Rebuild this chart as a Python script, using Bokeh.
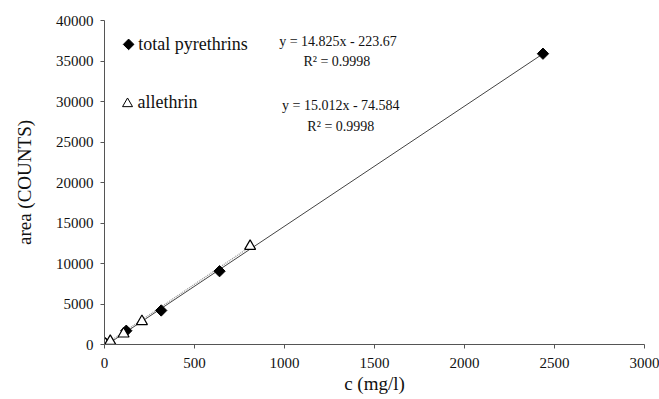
import math
from bokeh.plotting import figure
from bokeh.models import Range1d, Label, FixedTicker
from bokeh.embed import file_html
from bokeh.resources import INLINE

# data
pyr_x = [10, 121, 315, 639, 2436]
pyr_y = [50, 1700, 4200, 9050, 35900]
all_x = [4, 32, 106, 208, 809]
all_y = [80, 410, 1320, 2850, 12130]
pyr_slope, pyr_icpt = 14.825, -223.67
all_slope, all_icpt = 15.012, -74.584
x_ticks = [0, 500, 1000, 1500, 2000, 2500, 3000]
y_ticks = [0, 5000, 10000, 15000, 20000, 25000, 30000, 35000, 40000]

FONT = "Liberation Serif"
INK = "#111111"

p = figure(width=659, height=399, output_backend="svg", toolbar_location=None,
           x_range=Range1d(0, 3000), y_range=Range1d(0, 40000),
           min_border_left=104, min_border_right=15, min_border_top=20, min_border_bottom=55)
p.outline_line_color = None
p.grid.visible = False
p.background_fill_color = "white"

for ax in (p.xaxis[0], p.yaxis[0]):
    ax.axis_line_color = "#555555"
    ax.major_tick_line_color = "#555555"
    ax.major_tick_in = 0
    ax.major_tick_out = 4
    ax.minor_tick_line_color = None
    ax.major_label_text_font = FONT
    ax.major_label_text_font_size = "15px"
    ax.major_label_text_color = INK
    ax.axis_label_text_font = FONT
    ax.axis_label_text_font_size = "19px"
    ax.axis_label_text_font_style = "normal"
    ax.axis_label_text_color = INK

p.xaxis[0].ticker = FixedTicker(ticks=x_ticks)
p.yaxis[0].ticker = FixedTicker(ticks=y_ticks)
p.xaxis[0].axis_label = "c (mg/l)"
p.yaxis[0].axis_label = "area (COUNTS)"
p.xaxis[0].major_label_standoff = 9
p.yaxis[0].major_label_standoff = 7
p.xaxis[0].axis_label_standoff = 2
p.yaxis[0].axis_label_standoff = 18

# trend lines
px_end = max(pyr_x)
p.line([0, px_end], [pyr_icpt, pyr_slope * px_end + pyr_icpt], line_color="#444444", line_width=1)
ax_end = max(all_x)
p.line([0, ax_end], [all_icpt, all_slope * ax_end + all_icpt], line_color="#999999",
       line_width=1.3, line_dash="1 1")

p.scatter(pyr_x, pyr_y, marker="square", size=8, angle=math.pi / 4,
          fill_color="black", line_color="black")
p.scatter(all_x, all_y, marker="triangle", size=11, fill_color="white", line_color="black",
          line_width=1.2)

# legend
p.scatter([134], [37050], marker="square", size=7.5, angle=math.pi / 4,
          fill_color="black", line_color="black")
p.scatter([128], [29720], marker="triangle", size=10, fill_color="white", line_color="black",
          line_width=1)
p.add_layout(Label(x=188, y=37050, text="total pyrethrins", text_font=FONT,
                   text_font_size="18px", text_baseline="middle", text_color=INK))
p.add_layout(Label(x=183, y=30000, text="allethrin", text_font=FONT,
                   text_font_size="18px", text_baseline="middle", text_color=INK))

# equations
eqs = [
    (1297, 37415, "y = 14.825x - 223.67"),
    (1291, 34954, "R² = 0.9998"),
    (1313, 29538, "y = 15.012x - 74.584"),
    (1313, 26954, "R² = 0.9998"),
]
for x, y, t in eqs:
    p.add_layout(Label(x=x, y=y, text=t, text_font=FONT, text_font_size="14px",
                       text_align="center", text_baseline="middle", text_color=INK))

open("out.html", "w").write(file_html(p, INLINE))
